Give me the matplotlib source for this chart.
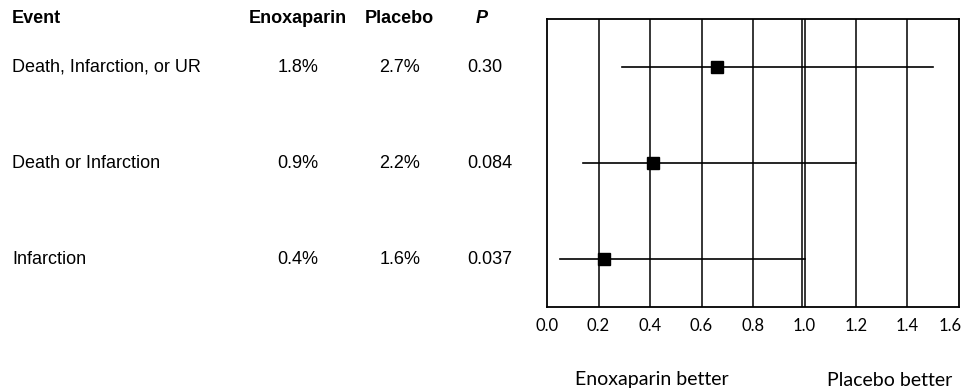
import matplotlib.pyplot as plt
from matplotlib.transforms import blended_transform_factory, ScaledTranslation

# data
events = ['Death, Infarction, or UR', 'Death or Infarction', 'Infarction']
enox = ['1.8%', '0.9%', '0.4%']
placebo = ['2.7%', '2.2%', '1.6%']
p_vals = ['0.30', '0.084', '0.037']
ratio = [0.66, 0.41, 0.22]
ci_low = [0.29, 0.14, 0.05]
ci_high = [1.50, 1.20, 1.00]
xticks = [0.0, 0.2, 0.4, 0.6, 0.8, 1.0, 1.2, 1.4, 1.6]

plt.rcParams['font.family'] = ['Liberation Sans', 'DejaVu Sans']

fig = plt.figure(figsize=(9.65, 3.91), dpi=100)
ax = fig.add_axes([547 / 965, 1 - 307 / 391, 412 / 965, 288 / 391])

rows = list(range(len(events), 0, -1))

# grid lines
for x in xticks[1:-1]:
    ax.axvline(x, color='black', lw=1.1, zorder=1)
ax.axvline(0.99, color='black', lw=1.1, zorder=1)

for y, lo, hi, r in zip(rows, ci_low, ci_high, ratio):
    ax.plot([lo, hi], [y, y], color='black', lw=1.2, zorder=2)
    ax.plot(r, y, marker='s', color='black', markersize=8, zorder=3)

ax.set_xlim(0, 1.6)
ax.set_ylim(0.5, len(events) + 0.5)
ax.set_yticks([])
ax.set_xticks(xticks)
ax.set_xticklabels([f'{t:.1f}' for t in xticks], family='Lato', fontsize=12)
ax.tick_params(axis='x', length=0, pad=8)
# last label nudged left so it fits in the figure
last = ax.get_xticklabels()[-1]
last.set_transform(last.get_transform() + ScaledTranslation(-0.09, 0, fig.dpi_scale_trans))
for s in ax.spines.values():
    s.set_linewidth(1.3)

# table
tr = blended_transform_factory(fig.transFigure, ax.transData)
fs = 13
hy = len(events) + 0.51
ax.text(12 / 965, hy, 'Event', transform=tr, fontsize=fs, fontweight='bold', va='center', ha='left', clip_on=False)
ax.text(298 / 965, hy, 'Enoxaparin', transform=tr, fontsize=fs, fontweight='bold', va='center', ha='center', clip_on=False)
ax.text(399 / 965, hy, 'Placebo', transform=tr, fontsize=fs, fontweight='bold', va='center', ha='center', clip_on=False)
ax.text(482 / 965, hy, 'P', transform=tr, fontsize=fs, fontweight='bold', style='italic', va='center', ha='center', clip_on=False)

for y, ev, e, pl, pv in zip(rows, events, enox, placebo, p_vals):
    ax.text(12 / 965, y, ev, transform=tr, fontsize=fs, va='center', ha='left')
    ax.text(298 / 965, y, e, transform=tr, fontsize=fs, va='center', ha='center')
    ax.text(400 / 965, y, pl, transform=tr, fontsize=fs, va='center', ha='center')
    ax.text(467 / 965, y, pv, transform=tr, fontsize=fs, va='center', ha='left')

fig.text(652 / 965, 1 - 380 / 391, 'Enoxaparin better', family='Lato', fontsize=14, ha='center', va='center')
fig.text(890 / 965, 1 - 380 / 391, 'Placebo better', family='Lato', fontsize=14, ha='center', va='center')

fig.savefig('out.png', dpi=100)
